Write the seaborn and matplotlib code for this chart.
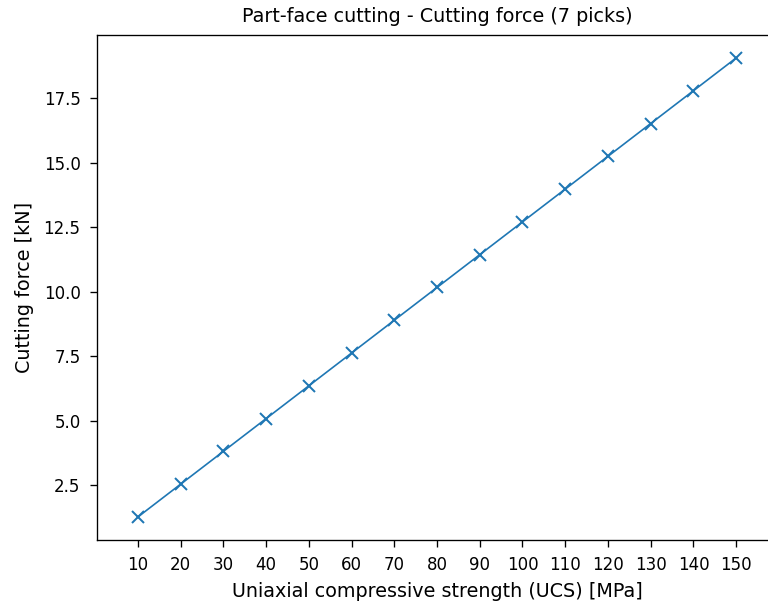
import matplotlib
matplotlib.use("Agg")
import matplotlib.pyplot as plt
import seaborn as sns
import pandas as pd

ucs = [10, 20, 30, 40, 50, 60, 70, 80, 90, 100, 110, 120, 130, 140, 150]
force = [1.27, 2.54, 3.81, 5.08, 6.35, 7.62, 8.89, 10.16, 11.43, 12.70,
         13.97, 15.24, 16.51, 17.78, 19.05]

df = pd.DataFrame({"ucs": ucs, "force": force})

DPI = 120
fig = plt.figure(figsize=(768 / DPI, 603 / DPI), dpi=DPI)
# axes runs slightly past the right edge of the canvas
ax = fig.add_axes([0.126, 0.1045, 0.886, 0.8375])
sns.lineplot(data=df, x="ucs", y="force", marker="x", markersize=7.5,
             markeredgewidth=1.2, linewidth=1.0,
             color="#1f77b4", markeredgecolor="#1f77b4", ax=ax)
ax.set_xticks(ucs)
ax.set_xlim(0.4, 159.6)
ax.tick_params(labelsize=10, length=4.2, pad=5.5)
ax.set_title("Part-face cutting - Cutting force (7 picks)", fontsize=11.5, pad=7.5)
ax.set_xlabel("Uniaxial compressive strength (UCS) [MPa]", fontsize=11.5, labelpad=5)
ax.set_ylabel("Cutting force [kN]", fontsize=11.5, labelpad=6)
fig.savefig("out.png", dpi=DPI)
